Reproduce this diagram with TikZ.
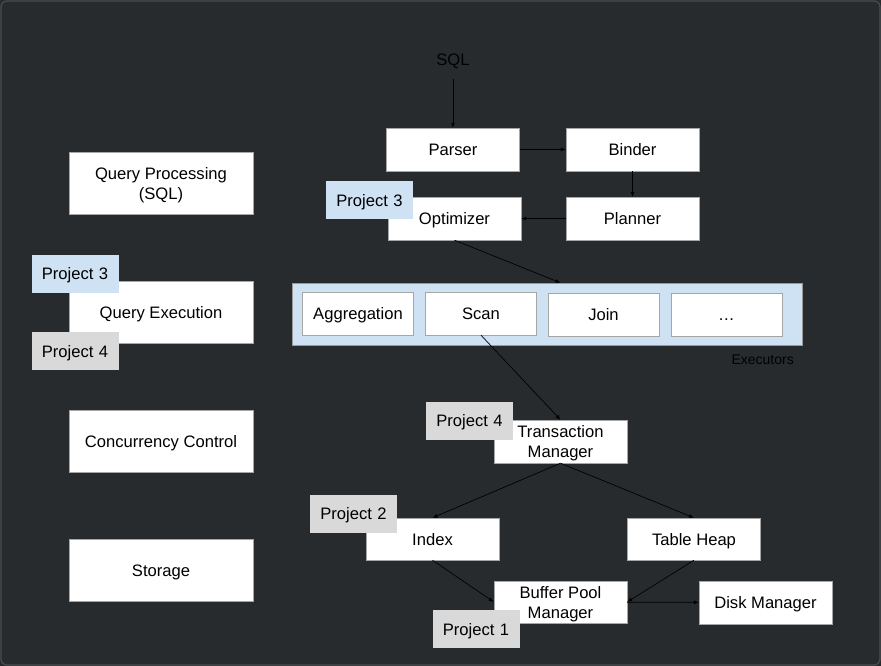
\documentclass[tikz,border=0pt]{standalone}
\usepackage{fontspec}
\setmainfont{Liberation Sans}
\usetikzlibrary{arrows.meta}
\definecolor{bgdark}{HTML}{282B2D}
\definecolor{frameline}{HTML}{4A4D50}
\definecolor{tagblue}{HTML}{CFE2F3}
\definecolor{taggray}{HTML}{D9D9D9}

\begin{document}
\begin{tikzpicture}[x=1pt, y=-1pt,
  every node/.style={font=\fontsize{16.6}{20}\selectfont, inner sep=0pt, align=center, text depth=0pt},
  box/.style={draw=black!35, fill=white, minimum width=133pt, minimum height=43pt},
  bigbox/.style={box, minimum width=184pt, minimum height=62pt},
  tag/.style={fill=taggray, minimum width=87pt, minimum height=38pt, xshift=-1pt, text width=84pt},
  bluetag/.style={tag, fill=tagblue},
  link/.style={-{Latex[length=5pt,width=4pt]}, black, line width=0.7pt}]
\useasboundingbox (0,0) rectangle (881,666);
\fill[bgdark] (0,0) rectangle (881,666);
\draw[frameline, rounded corners=6pt, line width=1.2pt] (1,1) rectangle (880,665);

\node[bigbox] (qp) at (161,183) {Query Processing\\(SQL)};
\node[bigbox] (qe) at (161,312.5) {Query Execution};
\node[bigbox] (cc) at (161,441) {Concurrency Control};
\node[bigbox] (storage) at (161,570.5) {Storage};
\node[bluetag] (qetag3) at (76,273.5) {Project 3};
\node[tag] (qetag4) at (76,351) {Project 4};

\node[minimum height=38pt] (sql) at (453,60) {SQL};
\node[box] (parser) at (453,149.5) {Parser};
\node[box] (binder) at (632.5,149.5) {Binder};
\node[box] (optimizer) at (454.5,218.5) {Optimizer};
\node[box] (planner) at (632.5,218.5) {Planner};

\node[draw=black!40, fill=tagblue, minimum width=510pt, minimum height=62pt] (exec) at (547,314) {};
\node[box, minimum width=111pt] (agg) at (358,313.5) {Aggregation};
\node[box, minimum width=111pt] (scan) at (481,313.5) {Scan};
\node[box, minimum width=111pt] (join) at (603.5,314.5) {Join};
\node[box, minimum width=111pt] (more) at (726.5,314.5) {\vphantom{J}…};
\node[font=\fontsize{14}{16}\selectfont, anchor=east, text=black] (execlabel) at (794,360) {Executors};

\node[box] (tm) at (560.5,441.5) {Transaction\\Manager};
\node[box, minimum height=42pt] (index) at (432.5,539) {Index};
\node[box, minimum height=42pt] (heap) at (694,539) {Table Heap};
\node[box, minimum height=42pt] (bpm) at (560.5,602) {Buffer Pool\\Manager};
\node[box] (disk) at (765.5,602.5) {Disk Manager};

\draw[link] (sql) -- (parser);
\draw[link] (parser) -- (binder);
\draw[link] (binder) -- (planner);
\draw[link] (planner) -- (optimizer);
\draw[link] (optimizer.south) -- (exec.north -| tm.north);
\draw[link] (scan.south) -- (tm.north);
\draw[link] (tm.south) -- (index.north);
\draw[link] (tm.south) -- (heap.north);
\draw[link] (index.south) -- (bpm.west);
\draw[link] (heap.south) -- (bpm.east);
\draw[link] (bpm) -- (disk);

\node[bluetag] (opttag) at (370.5,200) {Project 3};
\node[tag] (tmtag) at (470.5,420.5) {Project 4};
\node[tag] (indextag) at (354.5,513.5) {Project 2};
\node[tag] (bpmtag) at (477,629) {Project 1};
\end{tikzpicture}
\end{document}
